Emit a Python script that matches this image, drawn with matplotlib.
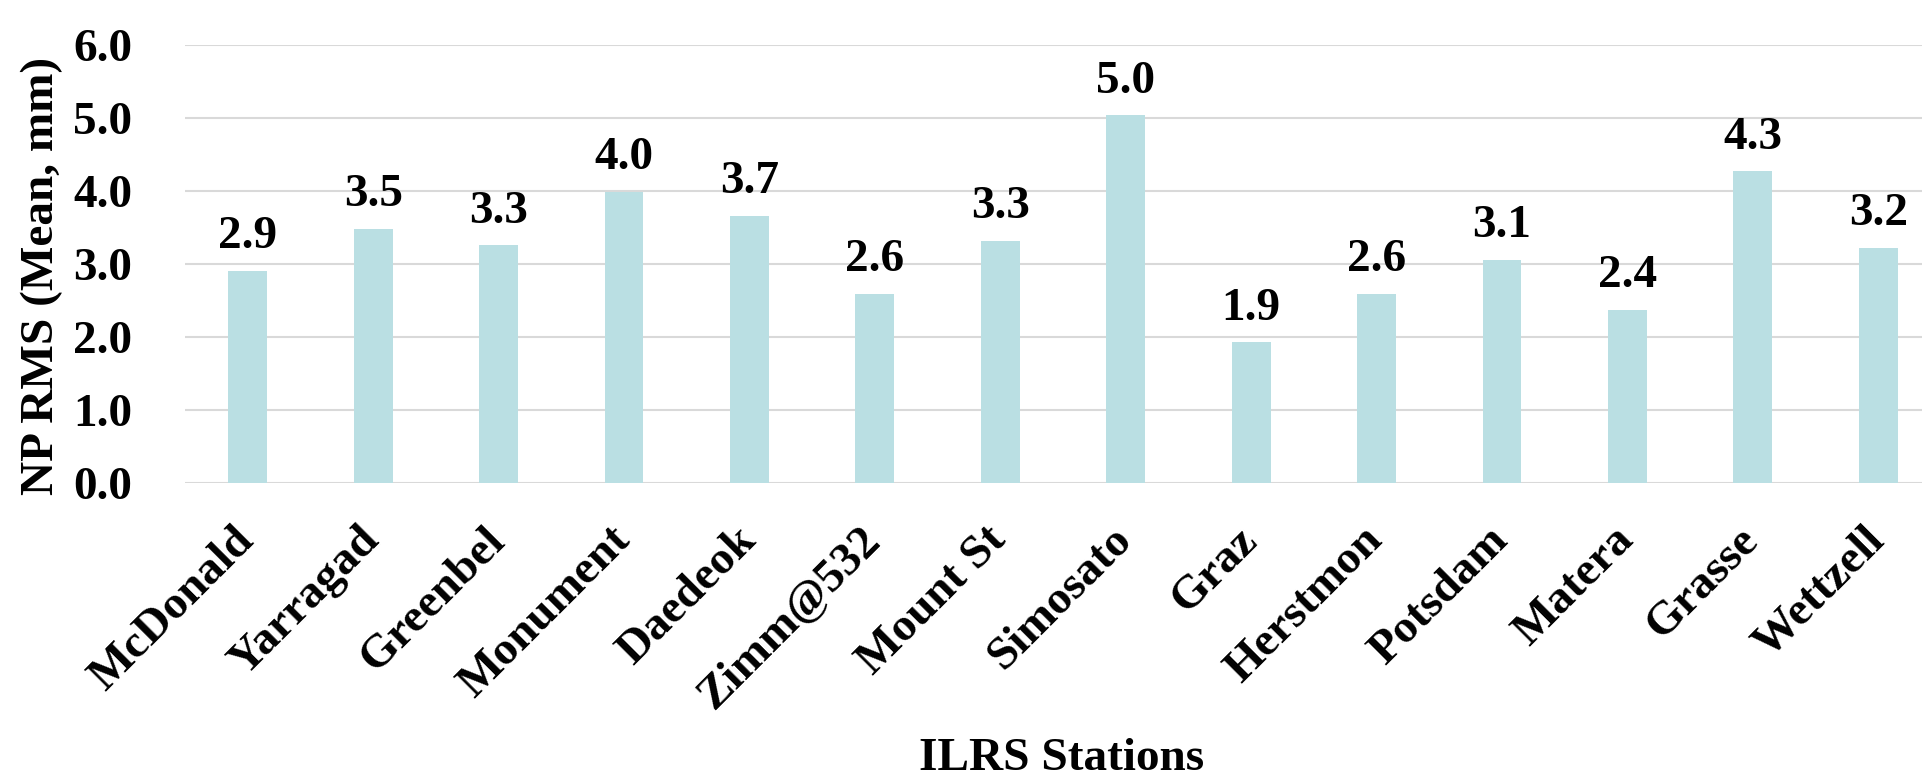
import matplotlib
matplotlib.use("Agg")
import matplotlib.pyplot as plt
from matplotlib.transforms import ScaledTranslation

stations = ["McDonald", "Yarragad", "Greenbel", "Monument", "Daedeok", "Zimm@532",
            "Mount St", "Simosato", "Graz", "Herstmon", "Potsdam", "Matera",
            "Grasse", "Wettzell"]
np_rms = [2.91, 3.48, 3.26, 3.99, 3.66, 2.59, 3.32, 5.04, 1.93, 2.59, 3.06, 2.37, 4.27, 3.22]
y_ticks = [0, 1, 2, 3, 4, 5, 6]

plt.rcParams['font.family'] = ['Liberation Serif', 'DejaVu Serif']
plt.rcParams['font.weight'] = 'bold'

W, H = 1922, 777
fig = plt.figure(figsize=(W / 100, H / 100), dpi=100)
left, right, top, bottom = 185, 1941, 45, 483
ax = fig.add_axes([left / W, 1 - bottom / H, (right - left) / W, (bottom - top) / H])

x = list(range(len(stations)))
ax.bar(x, np_rms, width=0.31, color="#BADFE3", zorder=3)
for xi, v in zip(x, np_rms):
    ax.annotate(f"{v:.1f}", xy=(xi, v), xytext=(0, 9), textcoords="offset points",
                ha="center", va="bottom", fontsize=34, fontweight="bold")

ax.set_xlim(-0.5, len(stations) - 0.5)
ax.set_ylim(0, 6)
ax.set_yticks(y_ticks)
ax.set_yticklabels([f"{t:.1f}" for t in y_ticks], fontsize=34, fontweight="bold")
ax.yaxis.grid(True, color="#D9D9D9", linewidth=1.5, zorder=0)
ax.set_axisbelow(True)
for s in ax.spines.values():
    s.set_visible(False)
ax.tick_params(axis="y", length=0, pad=38)
ax.tick_params(axis="x", length=0, pad=26)
ax.set_xticks(x)
ax.set_xticklabels(stations, rotation=45, ha="right", rotation_mode="anchor",
                   fontsize=34, fontweight="bold")
off = ScaledTranslation(-15 / 100, 0, fig.dpi_scale_trans)
for lab in ax.get_xticklabels():
    lab.set_transform(lab.get_transform() + off)

fig.text(42 / W, 1 - 276 / H, "NP RMS (Mean, mm)", rotation=90, ha="center", va="center",
         fontsize=34, fontweight="bold")
fig.text(1062 / W, 1 - 759 / H, "ILRS Stations", ha="center", va="center",
         fontsize=34, fontweight="bold")

fig.savefig("out.png", dpi=100)
